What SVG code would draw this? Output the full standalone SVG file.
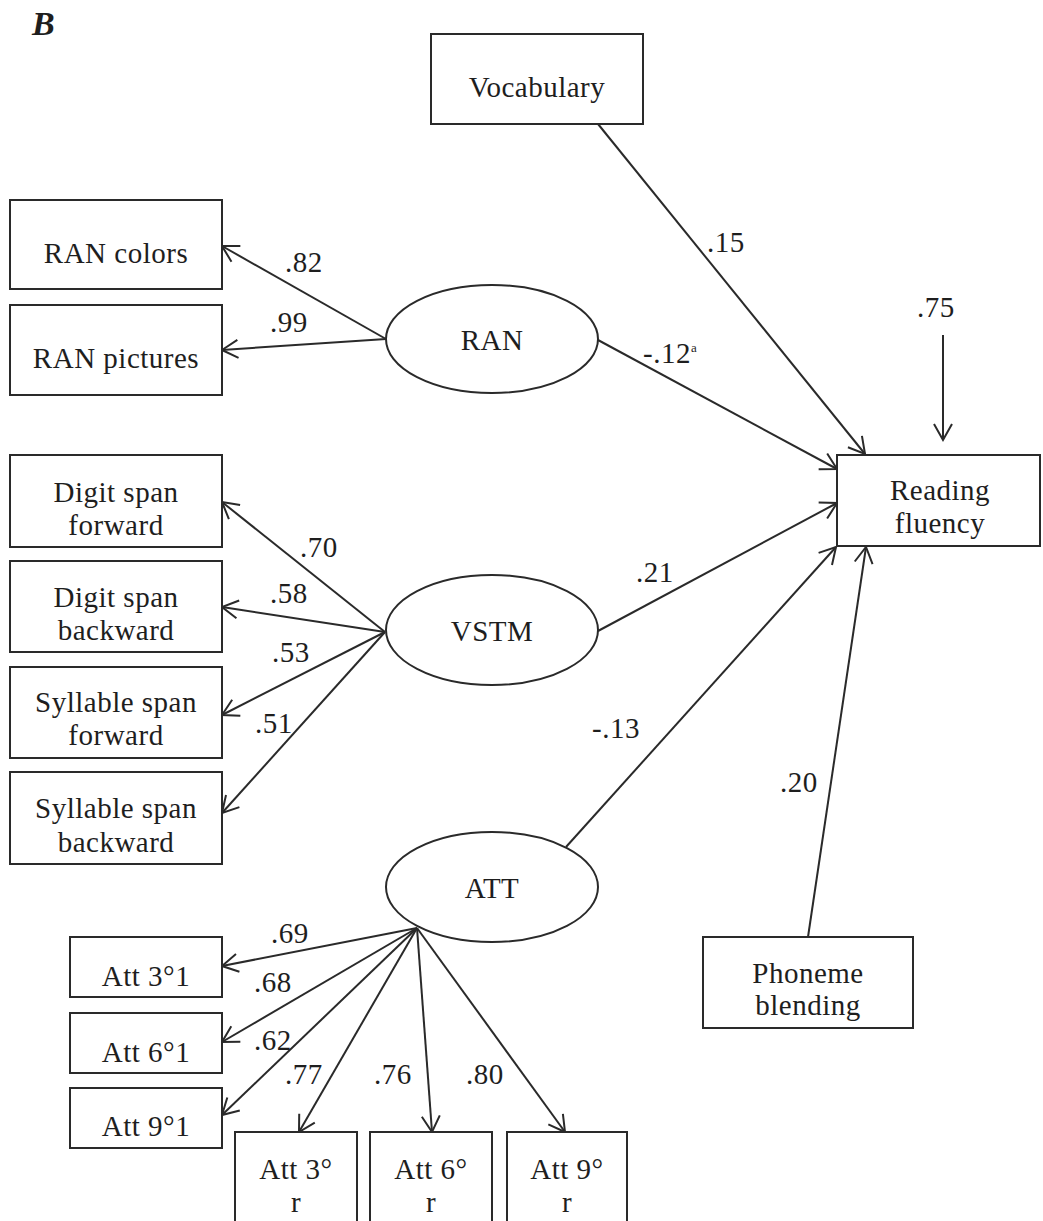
<svg xmlns="http://www.w3.org/2000/svg" width="1043" height="1221" viewBox="0 0 1043 1221">
<style>
.box{fill:#fff;stroke:#2a2a2a;stroke-width:2}
.ell{fill:#fff;stroke:#2a2a2a;stroke-width:2}
.t{font-family:"Liberation Serif",serif;font-size:29px;fill:#1e1e1e;letter-spacing:0.5px}
.c{text-anchor:middle}
.lab{font-family:"Liberation Serif",serif;font-size:29px;fill:#1e1e1e;letter-spacing:0.5px}
.ln{stroke:#2a2a2a;stroke-width:2;fill:none;marker-end:url(#ah)}
</style>
<defs>
<marker id="ah" markerUnits="userSpaceOnUse" markerWidth="40" markerHeight="40" refX="0" refY="0" viewBox="-20 -20 40 40" orient="auto" overflow="visible">
<path d="M-16,-9 L0,0 L-16,9" fill="none" stroke="#2a2a2a" stroke-width="2"/>
</marker>
</defs>
<rect width="1043" height="1221" fill="#fff"/>
<text x="32" y="35" font-family="Liberation Serif,serif" font-size="34" font-weight="bold" font-style="italic" fill="#1e1e1e">B</text>

<g id="connectors">
<line class="ln" x1="386" y1="339" x2="222" y2="246"/>
<line class="ln" x1="386" y1="339" x2="222" y2="350"/>
<line class="ln" x1="385" y1="632" x2="222" y2="502"/>
<line class="ln" x1="385" y1="632" x2="222" y2="607"/>
<line class="ln" x1="385" y1="632" x2="222" y2="715"/>
<line class="ln" x1="385" y1="632" x2="222" y2="813"/>
<line class="ln" x1="417" y1="928" x2="222" y2="966"/>
<line class="ln" x1="417" y1="928" x2="222" y2="1042"/>
<line class="ln" x1="417" y1="928" x2="222" y2="1115"/>
<line class="ln" x1="417" y1="928" x2="299" y2="1132"/>
<line class="ln" x1="417" y1="928" x2="432" y2="1132"/>
<line class="ln" x1="417" y1="928" x2="565" y2="1132"/>
<line class="ln" x1="598" y1="124" x2="865" y2="454"/>
<line class="ln" x1="598" y1="340" x2="837" y2="469"/>
<line class="ln" x1="598" y1="631" x2="837" y2="503"/>
<line class="ln" x1="566" y1="847" x2="836" y2="547"/>
<line class="ln" x1="808" y1="937" x2="866" y2="547"/>
<line class="ln" x1="943" y1="335" x2="943" y2="440"/>
</g>

<g id="labels">
<text class="lab" x="285" y="272">.82</text>
<text class="lab" x="270" y="332">.99</text>
<text class="lab" x="707" y="252">.15</text>
<text class="lab" x="917" y="317">.75</text>
<text class="lab" x="643" y="363">-.12<tspan font-size="13" dy="-11">a</tspan></text>
<text class="lab" x="300" y="557">.70</text>
<text class="lab" x="270" y="603">.58</text>
<text class="lab" x="272" y="662">.53</text>
<text class="lab" x="255" y="733">.51</text>
<text class="lab" x="636" y="582">.21</text>
<text class="lab" x="592" y="738">-.13</text>
<text class="lab" x="780" y="792">.20</text>
<text class="lab" x="271" y="943">.69</text>
<text class="lab" x="254" y="992">.68</text>
<text class="lab" x="254" y="1050">.62</text>
<text class="lab" x="285" y="1084">.77</text>
<text class="lab" x="374" y="1084">.76</text>
<text class="lab" x="466" y="1084">.80</text>
</g>

<g id="vocabulary">
<rect class="box" x="431" y="34" width="212" height="90"/>
<text class="t c" x="537" y="97">Vocabulary</text>
</g>
<g id="ran-colors">
<rect class="box" x="10" y="200" width="212" height="89"/>
<text class="t c" x="116" y="263">RAN colors</text>
</g>
<g id="ran-pictures">
<rect class="box" x="10" y="305" width="212" height="90"/>
<text class="t c" x="116" y="368">RAN pictures</text>
</g>
<g id="ran">
<ellipse class="ell" cx="492" cy="339" rx="106" ry="54"/>
<text class="t c" x="492" y="350">RAN</text>
</g>
<g id="reading-fluency">
<rect class="box" x="837" y="455" width="203" height="91"/>
<text class="t c" x="940" y="500">Reading</text>
<text class="t c" x="940" y="533">fluency</text>
</g>
<g id="digit-span-forward">
<rect class="box" x="10" y="455" width="212" height="92"/>
<text class="t c" x="116" y="502">Digit span</text>
<text class="t c" x="116" y="535">forward</text>
</g>
<g id="digit-span-backward">
<rect class="box" x="10" y="561" width="212" height="91"/>
<text class="t c" x="116" y="607">Digit span</text>
<text class="t c" x="116" y="640">backward</text>
</g>
<g id="syllable-span-forward">
<rect class="box" x="10" y="667" width="212" height="91"/>
<text class="t c" x="116" y="712">Syllable span</text>
<text class="t c" x="116" y="745">forward</text>
</g>
<g id="syllable-span-backward">
<rect class="box" x="10" y="772" width="212" height="92"/>
<text class="t c" x="116" y="818">Syllable span</text>
<text class="t c" x="116" y="852">backward</text>
</g>
<g id="vstm">
<ellipse class="ell" cx="492" cy="630" rx="106" ry="55"/>
<text class="t c" x="492" y="641">VSTM</text>
</g>
<g id="att">
<ellipse class="ell" cx="492" cy="887" rx="106" ry="55"/>
<text class="t c" x="492" y="898">ATT</text>
</g>
<g id="phoneme-blending">
<rect class="box" x="703" y="937" width="210" height="91"/>
<text class="t c" x="808" y="983">Phoneme</text>
<text class="t c" x="808" y="1015">blending</text>
</g>
<g id="att-3-1">
<rect class="box" x="70" y="937" width="152" height="60"/>
<text class="t c" x="146" y="986">Att 3°1</text>
</g>
<g id="att-6-1">
<rect class="box" x="70" y="1013" width="152" height="60"/>
<text class="t c" x="146" y="1062">Att 6°1</text>
</g>
<g id="att-9-1">
<rect class="box" x="70" y="1088" width="152" height="60"/>
<text class="t c" x="146" y="1136">Att 9°1</text>
</g>
<g id="att-3-r">
<rect class="box" x="235" y="1132" width="122" height="100"/>
<text class="t c" x="296" y="1179">Att 3°</text>
<text class="t c" x="296" y="1212">r</text>
</g>
<g id="att-6-r">
<rect class="box" x="370" y="1132" width="122" height="100"/>
<text class="t c" x="431" y="1179">Att 6°</text>
<text class="t c" x="431" y="1212">r</text>
</g>
<g id="att-9-r">
<rect class="box" x="507" y="1132" width="120" height="100"/>
<text class="t c" x="567" y="1179">Att 9°</text>
<text class="t c" x="567" y="1212">r</text>
</g>
</svg>
